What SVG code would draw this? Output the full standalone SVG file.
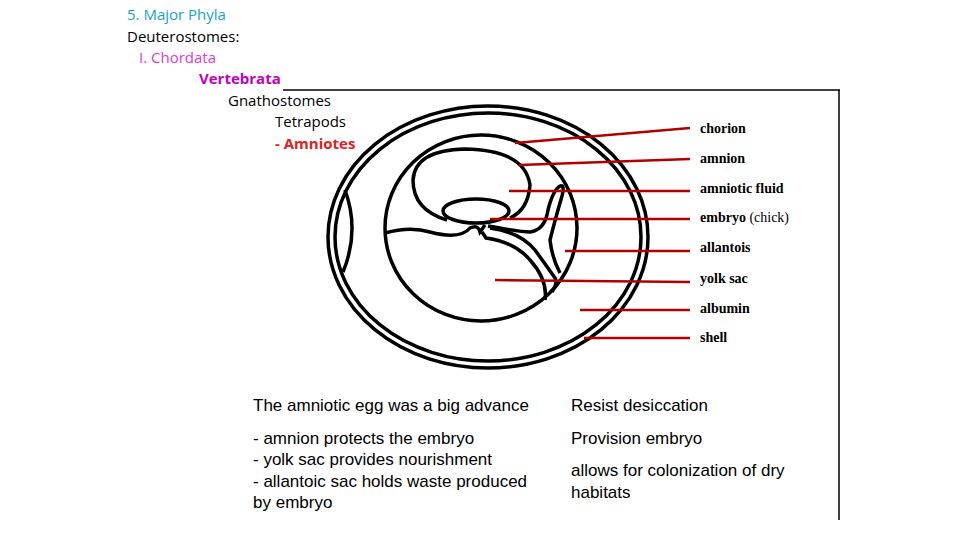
<svg xmlns="http://www.w3.org/2000/svg" width="960" height="540" viewBox="0 0 960 540">
<style>
.h{font-family:"Open Sans","Liberation Sans",sans-serif;font-size:15px}
.lb{font-family:"Liberation Serif",serif;font-size:14px;font-weight:bold;fill:#000}
.b{font-family:"Liberation Sans",sans-serif;font-size:17px;fill:#000}
.k{fill:none;stroke:#000;stroke-width:3.5}
.r{stroke:#b00000;stroke-width:2.5}
</style>
<rect width="960" height="540" fill="#fff"/>
<g id="heading">
<text class="h" x="127" y="20" fill="#17a2c8">5. Major Phyla</text>
<text class="h" x="127" y="42" fill="#000">Deuterostomes:</text>
<text class="h" x="139" y="63" fill="#e03cc8">I. Chordata</text>
<text class="h" x="199" y="84" fill="#c000c0" font-weight="bold">Vertebrata</text>
<text class="h" x="228" y="106" fill="#000">Gnathostomes</text>
<text class="h" x="275" y="127" fill="#000">Tetrapods</text>
<text class="h" x="275" y="149" fill="#e02020" font-weight="bold">- Amniotes</text>
</g>
<g id="frame" stroke="#000" stroke-width="1.5">
<line x1="283" y1="90" x2="840" y2="90"/>
<line x1="839" y1="90" x2="839" y2="520"/>
</g>
<g id="egg">
<ellipse class="k" cx="488" cy="237" rx="160" ry="131"/>
<ellipse class="k" cx="488" cy="237" rx="153" ry="124"/>
<path class="k" d="M345,190 Q360,231 343,272"/>
<ellipse class="k" cx="481" cy="228" rx="96" ry="93"/>
<path class="k" d="M447,220 Q413,210 413,180 Q415,150 465,149 Q525,150 530,185 Q528,210 510,218"/>
<ellipse class="k" cx="476" cy="211" rx="33" ry="12"/>
<path class="k" d="M385,233 Q410,226 430,232 Q460,240 470,228 Q478,224 480,232 L485,225"/>
<path class="k" d="M482,232 L486,238 Q515,242 530,260 Q548,280 545,300"/>
<path class="k" d="M490,228 Q520,232 535,250 Q548,268 555,278 Q558,282 552,292"/>
<path class="k" d="M488,226 Q520,232 530,232 Q545,230 548,210 Q553,190 560,186 Q565,184 562,196 Q555,220 550,240 Q552,258 560,273"/>
</g>
<g id="connectors">
<line class="r" x1="515" y1="143" x2="690" y2="128"/>
<line class="r" x1="519" y1="165" x2="690" y2="159"/>
<line class="r" x1="509" y1="191" x2="690" y2="191"/>
<line class="r" x1="490" y1="219" x2="690" y2="219"/>
<line class="r" x1="565" y1="251" x2="690" y2="251"/>
<line class="r" x1="495" y1="280" x2="690" y2="282"/>
<line class="r" x1="580" y1="310" x2="690" y2="310"/>
<line class="r" x1="584" y1="338" x2="690" y2="338"/>
</g>
<g id="labels">
<text class="lb" x="700" y="133">chorion</text>
<text class="lb" x="700" y="163">amnion</text>
<text class="lb" x="700" y="193">amniotic fluid</text>
<text class="lb" x="700" y="222">embryo <tspan font-weight="normal">(chick)</tspan></text>
<text class="lb" x="700" y="252">allantois</text>
<text class="lb" x="700" y="283">yolk sac</text>
<text class="lb" x="700" y="313">albumin</text>
<text class="lb" x="700" y="342">shell</text>
</g>
<g id="text-left">
<text class="b" x="253" y="411">The amniotic egg was a big advance</text>
<text class="b" x="253" y="444">- amnion protects the embryo</text>
<text class="b" x="253" y="465">- yolk sac provides nourishment</text>
<text class="b" x="253" y="487">- allantoic sac holds waste produced</text>
<text class="b" x="253" y="508">by embryo</text>
</g>
<g id="text-right">
<text class="b" x="571" y="411">Resist desiccation</text>
<text class="b" x="571" y="444">Provision embryo</text>
<text class="b" x="571" y="476">allows for colonization of dry</text>
<text class="b" x="571" y="498">habitats</text>
</g>
</svg>
